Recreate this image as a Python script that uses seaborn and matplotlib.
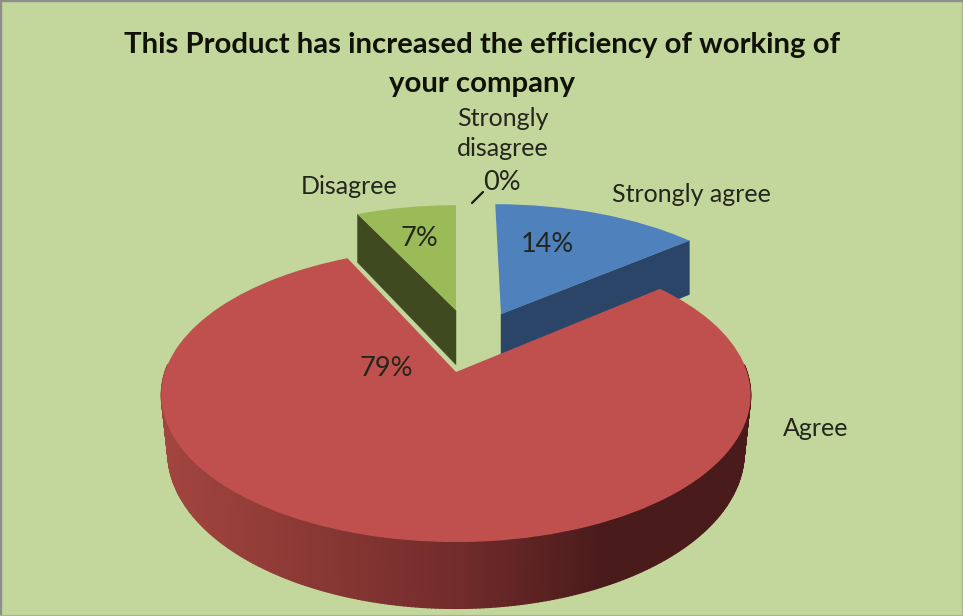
import numpy as np
import matplotlib
matplotlib.use("Agg")
import matplotlib.pyplot as plt
from matplotlib.transforms import Transform
from matplotlib.colors import to_rgb
import seaborn as sns

# ---- data ----
title_lines = ["This Product has increased the efficiency of working of", "your company"]
categories = ["Strongly agree", "Agree", "Disagree", "Strongly disagree"]
shares = [14, 79, 7, 0]

# ---- style ----
sns.set_theme(style="white")
plt.rcParams["font.family"] = ["Lato", "DejaVu Sans"]
BG = "#C3D69B"
INK = "#23261c"
palette = sns.color_palette(["#4F81BD", "#C0504D", "#9BBB59", "#8064A2"])
wall_colors = {0: "#2A4567", 2: "#3F4A20"}
wall_depth = {0: 1.12, 2: 1.04}
red_left, red_mid, red_dark = to_rgb("#A3453F"), to_rgb("#722C2B"), to_rgb("#4A1B1B")

# perspective of the disk plane, in figure pixels
CX, CY, R, S, K = 456.0, 372.0, 291.0, 143.5, 0.156
DEPTH = 56.0
SHRINK = 0.978


class DiskPlane(Transform):
    input_dims = output_dims = 2
    is_affine = False

    def transform_non_affine(self, values):
        v = np.asarray(values, dtype=float)
        w = 1 + K * v[:, 1]
        return np.column_stack([CX + R * v[:, 0] / w, CY - S * v[:, 1] / w])


def rim(x, y, depth=DEPTH):
    w = 1 + K * y
    top = np.column_stack([CX + R * x / w, CY - S * y / w])
    low = np.column_stack([CX + SHRINK * R * x / w, CY - S * y / w + depth / w])
    return top, low


fig = plt.figure(figsize=(9.63, 6.16), dpi=100, facecolor=BG)
ax = fig.add_axes([0, 0, 1, 1], facecolor=BG)
wedges, _ = ax.pie(shares, colors=palette, startangle=90, counterclock=False, radius=1)
ax.set_aspect("auto")
ax.set_xlim(0, 963)
ax.set_ylim(616, 0)
ax.set_xticks([])
ax.set_yticks([])
ax.set_frame_on(True)
for side, col, lw in [("top", "#8E8E8E", 2.4), ("left", "#8E8E8E", 2.4),
                      ("right", "#A9B394", 1.6), ("bottom", "#A9B394", 1.6)]:
    ax.spines[side].set_color(col)
    ax.spines[side].set_linewidth(lw)

# slices pulled away from the pie, in disk units
offsets = {0: (0.165, 0.43), 1: (0.0, 0.0), 2: (0.0, 0.46), 3: (0.0, 0.46)}
radii = {0: 1.0, 1: 1.0, 2: 0.96, 3: 0.96}
top_order = {0: 3, 2: 5, 1: 8, 3: 1}
plane = DiskPlane() + ax.transData

for i, wedge in enumerate(wedges):
    wedge.set_center(offsets[i])
    wedge.set_radius(radii[i])
    wedge.set_transform(plane)
    wedge.set_clip_on(False)
    wedge.set_edgecolor("none")
    wedge.set_zorder(top_order[i])
    if shares[i] == 0:
        wedge.set_visible(False)

# extruded radial walls of the two pulled slices
for i, edge_theta in [(0, wedges[0].theta1), (2, wedges[2].theta2)]:
    cx0, cy0 = offsets[i]
    a = np.deg2rad(edge_theta)
    xs = np.array([cx0, cx0 + radii[i] * np.cos(a)])
    ys = np.array([cy0, cy0 + radii[i] * np.sin(a)])
    t, l = rim(xs, ys, DEPTH * wall_depth[i])
    l[:, 0] = t[:, 0]
    poly = np.vstack([t, l[::-1]])
    ax.fill(poly[:, 0], poly[:, 1], color=wall_colors[i], lw=0.3, zorder=top_order[i] - 1)

# outer wall of the big slice, shaded across its width
th = np.deg2rad(np.linspace(wedges[1].theta1, wedges[1].theta2, 420))
x_r, y_r = np.cos(th), np.sin(th)
t, l = rim(x_r, y_r)
for j in range(len(th) - 1):
    if y_r[j] > 0.05 and y_r[j + 1] > 0.05:
        continue
    poly = np.vstack([t[j:j + 2], l[j:j + 2][::-1]])
    pos = (t[j, 0] - 160) / 591
    if pos < 0.5:
        c = np.array(red_left) + (np.array(red_mid) - np.array(red_left)) * pos / 0.5
    else:
        c = np.array(red_mid) + (np.array(red_dark) - np.array(red_mid)) * min((pos - 0.5) / 0.25, 1)
    ax.fill(poly[:, 0], poly[:, 1], color=tuple(c), lw=1.0, zorder=7)

# ---- text ----
ax.text(482, 45, title_lines[0], fontsize=21.2, fontweight="bold", color="#101208", ha="center", va="center")
ax.text(482, 84, title_lines[1], fontsize=21.2, fontweight="bold", color="#101208", ha="center", va="center")
lab = dict(fontsize=18, color=INK, ha="center", va="center", zorder=12)
ax.text(691, 194, categories[0], **lab)
ax.text(816, 429, categories[1], **lab)
ax.text(349, 186, categories[2], **lab)
first, second = categories[3].split(" ")
ax.text(503, 118, first, **lab)
ax.text(503, 149, second, **lab)
pct = dict(lab, fontsize=19.5)
pct_pos = [(547, 244), (386, 369), (419, 239), (502, 182)]
for (px, py), v in zip(pct_pos, shares):
    ax.text(px, py, f"{v}%", **pct)
ax.plot([472, 483], [203, 192], color="#1a1a1a", lw=1.6, zorder=12)

fig.savefig("out.png", dpi=100, facecolor=BG)
